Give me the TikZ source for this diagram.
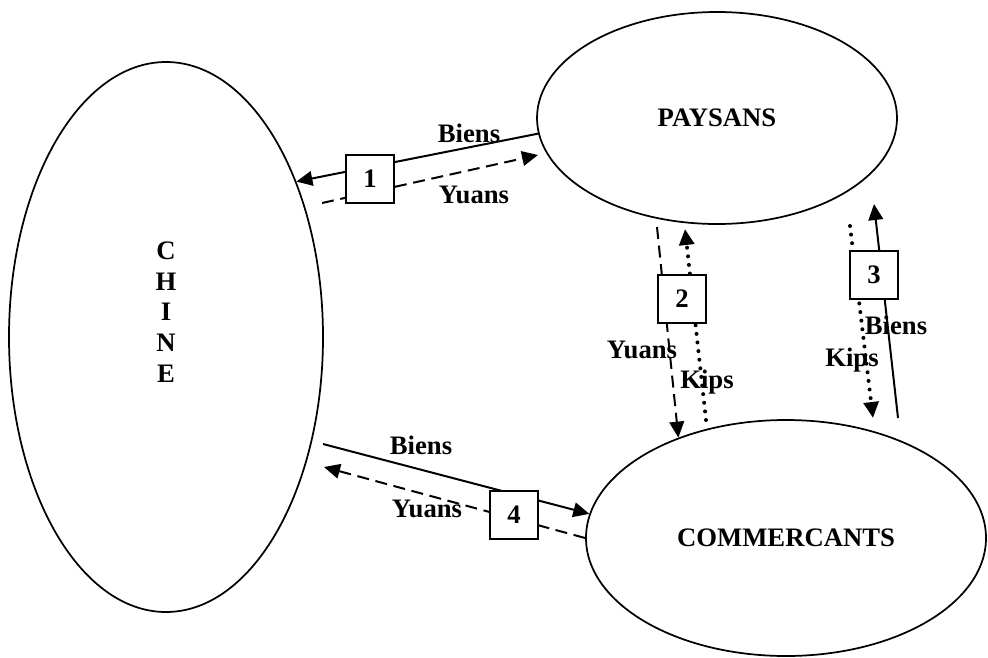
\documentclass[tikz,border=0pt]{standalone}
\usepackage{fontspec}
\setmainfont{Liberation Serif}
\usetikzlibrary{shapes.geometric, arrows.meta}

\begin{document}
\begin{tikzpicture}[
  x=0.75pt, y=-0.75pt,
  ellip/.style={draw, ellipse, line width=1.3pt, inner sep=0pt, font=\bfseries\fontsize{20}{23}\selectfont},
  numbox/.style={draw, fill=white, line width=1pt, minimum size=36pt, inner sep=0pt, font=\bfseries\fontsize{20}{23}\selectfont},
  lbl/.style={font=\bfseries\fontsize{20}{23}\selectfont, inner sep=0pt},
  biens/.style={-{Triangle[length=12pt, width=11pt]}, line width=1.5pt},
  yuans/.style={biens, dash pattern=on 9pt off 5pt},
  kips/.style={-{Triangle[length=12pt, width=11pt]}, line width=3pt, line cap=round, dash pattern=on 0pt off 6.5pt}
]
\useasboundingbox (0,0) rectangle (988,657);

\node[ellip, minimum width=235.5pt, minimum height=412.5pt] (chine) at (166,337) {};
\node[ellip, minimum width=270pt, minimum height=159pt] (paysans) at (717,118) {PAYSANS};
\node[ellip, minimum width=300pt, minimum height=177pt] (commercants) at (786,538) {COMMERCANTS};
\node[lbl, align=center] (chinetxt) at (166,312) {C\\H\\I\\N\\E};

\coordinate (y1s) at (322,203);
\coordinate (y1e) at (538,155);
\coordinate (y2s) at (657,227);
\coordinate (k2s) at (706,420);
\coordinate (k2e) at (685,229);
\coordinate (k3s) at (850,226);
\coordinate (k3e) at (873,418);
\coordinate (b3s) at (898,418);
\coordinate (b3e) at (874,204);
\coordinate (b4s) at (323,444);
\coordinate (y4e) at (324,467);

\draw[biens] (paysans.185) -- (chine.50);
\draw[yuans] (y1s) -- (y1e);
\draw[yuans] (y2s) -- (commercants.137);
\draw[kips] (k2s) -- (k2e);
\draw[kips] (k3s) -- (k3e);
\draw[biens] (b3s) -- (b3e);
\draw[biens] (b4s) -- (commercants.173);
\draw[yuans] (commercants.west) -- (y4e);

\node[numbox] (box1) at (370,179) {1};
\node[numbox] (box2) at (682,299) {2};
\node[numbox] (box3) at (874,275) {3};
\node[numbox] (box4) at (514,515) {4};

\node[lbl, anchor=base] (biens1) at (469,142) {Biens};
\node[lbl, anchor=base] (yuans1) at (474,203) {Yuans};
\node[lbl, anchor=base] (yuans2) at (642,358) {Yuans};
\node[lbl, anchor=base] (kips2) at (707,388) {Kips};
\node[lbl, anchor=base] (biens3) at (896,334) {Biens};
\node[lbl, anchor=base] (kips3) at (852,366) {Kips};
\node[lbl, anchor=base] (biens4) at (421,454) {Biens};
\node[lbl, anchor=base] (yuans4) at (427,517) {Yuans};
\end{tikzpicture}
\end{document}
